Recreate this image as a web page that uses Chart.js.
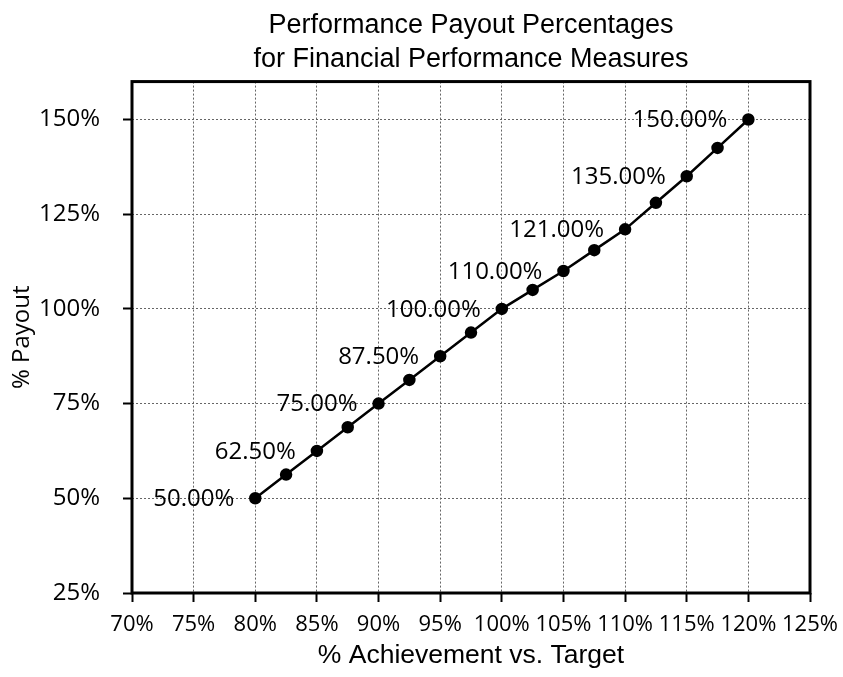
<!DOCTYPE html>
<html>
<head>
<meta charset="utf-8">
<title>Performance Payout Percentages</title>
<script src="https://cdn.jsdelivr.net/npm/chart.js@4.4.1/dist/chart.umd.min.js"></script>
<style>
  html, body { margin: 0; padding: 0; background: #fff; }
  #wrap { width: 843px; height: 677px; position: relative; }
</style>
</head>
<body>
<div id="wrap"><canvas id="chart"></canvas></div>
<script>
// % achievement vs. target and the payout earned at each step
const achievement = [80, 82.5, 85, 87.5, 90, 92.5, 95, 97.5, 100, 102.5, 105, 107.5, 110, 112.5, 115, 117.5, 120];
const payout = [50, 56.25, 62.5, 68.75, 75, 81.25, 87.5, 93.75, 100, 105, 110, 115.5, 121, 128, 135, 142.5, 150];
// which points carry a value label
const labelled = [1, 0, 1, 0, 1, 0, 1, 0, 1, 0, 1, 0, 1, 0, 1, 0, 1];
const yTicks = [25, 50, 75, 100, 125, 150];

const tickFont = "'Open Sans', 'DejaVu Sans', sans-serif";
const titleFont = "'Liberation Sans', Arial, sans-serif";

const frame = {
  id: "frame",
  beforeDatasetsDraw(chart) {
    const { ctx, chartArea: a } = chart;
    ctx.save();
    ctx.strokeStyle = "#000";
    ctx.lineWidth = 3;
    ctx.strokeRect(a.left, a.top, a.right - a.left, a.bottom - a.top);
    ctx.restore();
  },
};

const valueLabels = {
  id: "valueLabels",
  afterDatasetsDraw(chart) {
    const { ctx } = chart;
    const meta = chart.getDatasetMeta(0);
    ctx.save();
    ctx.fillStyle = "#000";
    ctx.font = "24px " + tickFont;
    ctx.textAlign = "right";
    ctx.textBaseline = "middle";
    meta.data.forEach((pt, i) => {
      if (!labelled[i]) return;
      ctx.fillText(payout[i].toFixed(2) + "%", pt.x - 21, pt.y + 1);
    });
    ctx.restore();
  },
};

const gridLines = {
  color: "#666",
  lineWidth: 1,
  tickLength: 9,
  tickColor: "#000",
  tickWidth: 2,
  tickBorderDash: [],
};

new Chart(document.getElementById("chart"), {
  type: "line",
  data: {
    datasets: [{
      data: achievement.map((x, i) => ({ x, y: payout[i] })),
      borderColor: "#000",
      backgroundColor: "#000",
      borderWidth: 2.5,
      pointRadius: 5,
      pointHoverRadius: 5,
      tension: 0,
    }],
  },
  options: {
    responsive: true,
    maintainAspectRatio: false,
    animation: false,
    layout: { padding: { top: 0, right: 33, bottom: 0, left: 0 } },
    plugins: {
      legend: { display: false },
      tooltip: { enabled: false },
      title: {
        display: true,
        fullSize: false,
        text: ["Performance Payout Percentages", "for Financial Performance Measures"],
        color: "#000",
        font: { family: titleFont, size: 27, weight: "normal", lineHeight: 1.27 },
        padding: { top: 8, bottom: 5 },
      },
    },
    scales: {
      x: {
        type: "linear",
        min: 70,
        max: 125,
        ticks: {
          stepSize: 5,
          autoSkip: false,
          maxRotation: 0,
          minRotation: 0,
          color: "#000",
          padding: 10,
          font: { family: tickFont, size: 22 },
          callback: (v) => v + "%",
        },
        grid: gridLines,
        border: { display: false, dash: [2, 2] },
        title: {
          display: true,
          text: "% Achievement vs. Target",
          color: "#000",
          font: { family: titleFont, size: 26.5 },
          padding: { top: 0, bottom: 5 },
        },
        afterFit: (s) => {
          s.height = 84;
          s.paddingLeft = 0;
          s.paddingRight = 0;
        },
      },
      y: {
        min: 25,
        max: 160,
        afterBuildTicks: (s) => { s.ticks = yTicks.map((value) => ({ value })); },
        ticks: {
          color: "#000",
          padding: 23,
          font: { family: tickFont, size: 24 },
          callback: (v) => v + "%",
        },
        grid: gridLines,
        border: { display: false, dash: [2, 2] },
        title: {
          display: true,
          text: "% Payout",
          color: "#000",
          font: { family: tickFont, size: 24 },
          padding: { top: 8, bottom: 0 },
        },
        afterFit: (s) => { s.width = 132; },
      },
    },
  },
  plugins: [frame, valueLabels],
});
</script>
</body>
</html>
